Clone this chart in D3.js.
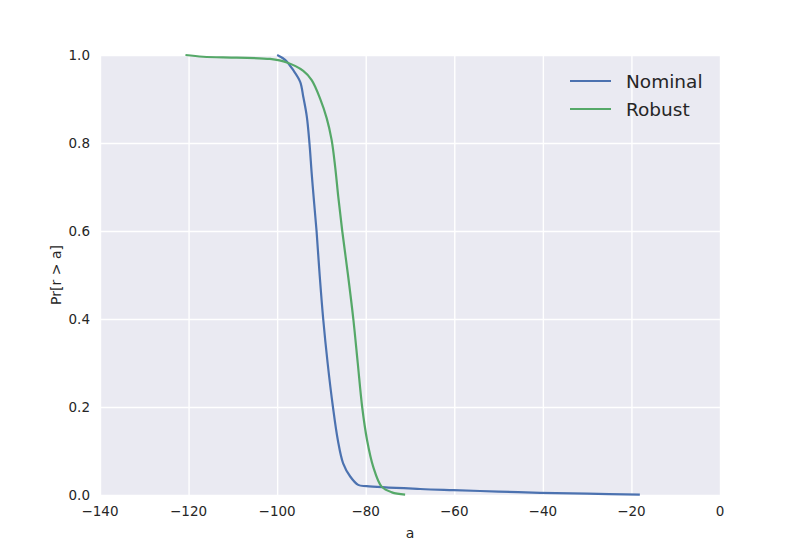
<!DOCTYPE html>
<html>
<head>
<meta charset="utf-8">
<script src="https://cdn.jsdelivr.net/npm/d3@7/dist/d3.min.js"></script>
<style>
  body { margin: 0; background: #fff; }
  svg text { font-family: "DejaVu Sans", sans-serif; fill: #262626; }
</style>
</head>
<body>
<svg id="chart"></svg>
<script>
// survival curves Pr[r > a]
const nominalA = [-100.0, -98.2, -96.4, -94.8, -94.1, -93.3, -92.7, -92.2, -91.7, -91.1,
                  -90.4, -89.6, -88.6, -87.4, -86.3, -85.1, -83.5, -81.7, -79.8, -67.7,
                  -60.2, -50.0, -40.6, -30.0, -18.1];
const nominalP = [1.0, 0.989, 0.966, 0.939, 0.905, 0.86, 0.799, 0.731, 0.67, 0.6,
                  0.5, 0.4, 0.30, 0.2, 0.125, 0.072, 0.042, 0.023, 0.020, 0.0136,
                  0.011, 0.0078, 0.005, 0.003, 0.001];

const robustA = [-120.7, -116.7, -109.1, -101.6, -97.8, -94.1, -92.2, -90.3, -88.8, -87.7,
                 -86.9, -86.2, -85.3, -84.0, -82.8, -81.8, -80.8, -79.7, -78.3, -76.4,
                 -74.1, -71.1];
const robustP = [1.0, 0.996, 0.994, 0.991, 0.983, 0.964, 0.943, 0.901, 0.856, 0.807,
                 0.746, 0.678, 0.6, 0.5, 0.4, 0.3, 0.2, 0.125, 0.064, 0.019,
                 0.006, 0.001];

const seriesNames = ["Nominal", "Robust"];
const seriesColors = ["#4C72B0", "#55A868"];
const xTicks = [-140, -120, -100, -80, -60, -40, -20, 0];
const yTicks = [0.0, 0.2, 0.4, 0.6, 0.8, 1.0];

const width = 800, height = 550;
const margin = {left: 100, right: 80, top: 55, bottom: 55};

const svg = d3.select("#chart")
    .attr("width", width)
    .attr("height", height);

const x = d3.scaleLinear().domain([-140, 0]).range([margin.left, width - margin.right]);
const y = d3.scaleLinear().domain([0, 1]).range([height - margin.bottom, margin.top]);

// background
svg.append("rect")
    .attr("x", x(-140))
    .attr("y", y(1))
    .attr("width", x(0) - x(-140))
    .attr("height", y(0) - y(1))
    .style("fill", "#EAEAF2");

// grid
svg.append("g")
    .attr("transform", "translate(0," + y(0) + ")")
    .call(d3.axisBottom(x).tickValues(xTicks).tickSize(-(y(0) - y(1))).tickFormat(""))
    .call(g => g.select(".domain").remove())
    .selectAll("line").style("stroke", "#fff").style("stroke-width", 1.4);

svg.append("g")
    .attr("transform", "translate(" + x(-140) + ",0)")
    .call(d3.axisLeft(y).tickValues(yTicks).tickSize(-(x(0) - x(-140))).tickFormat(""))
    .call(g => g.select(".domain").remove())
    .selectAll("line").style("stroke", "#fff").style("stroke-width", 1.4);

// tick labels
const fmtX = d => (d < 0 ? "\u2212" + Math.abs(d) : String(d));
svg.append("g").selectAll("text")
    .data(xTicks)
    .join("text")
    .attr("x", d => x(d))
    .attr("y", 516)
    .attr("text-anchor", "middle")
    .style("font-size", "13.5px")
    .text(fmtX);

svg.append("g").selectAll("text")
    .data(yTicks)
    .join("text")
    .attr("x", 90)
    .attr("y", d => y(d))
    .attr("dy", "0.35em")
    .attr("text-anchor", "end")
    .style("font-size", "13.5px")
    .text(d => d.toFixed(1));

// axis labels
svg.append("text")
    .attr("x", (x(-140) + x(0)) / 2)
    .attr("y", 538)
    .attr("text-anchor", "middle")
    .style("font-size", "14px")
    .text("a");

svg.append("text")
    .attr("transform", "translate(61," + (y(0) + y(1)) / 2 + ") rotate(-90)")
    .attr("text-anchor", "middle")
    .style("font-size", "14px")
    .text("Pr[r > a]");

// curves
const line = d3.line()
    .x(d => x(d[0]))
    .y(d => y(d[1]))
    .curve(d3.curveCatmullRom.alpha(0.5));

const series = [
    d3.zip(nominalA, nominalP),
    d3.zip(robustA, robustP)
];

svg.append("g").selectAll("path")
    .data(series)
    .join("path")
    .attr("d", line)
    .style("fill", "none")
    .style("stroke", (d, i) => seriesColors[i])
    .style("stroke-width", 2.2)
    .style("stroke-linejoin", "round");

// legend
const legend = svg.append("g").selectAll("g")
    .data(seriesNames)
    .join("g")
    .attr("transform", (d, i) => "translate(570," + (81 + i * 28) + ")");

legend.append("line")
    .attr("x1", 0)
    .attr("x2", 41)
    .style("stroke", (d, i) => seriesColors[i])
    .style("stroke-width", 2.2);

legend.append("text")
    .attr("x", 56)
    .attr("y", 7)
    .style("font-size", "18.5px")
    .text(d => d);
</script>
</body>
</html>
